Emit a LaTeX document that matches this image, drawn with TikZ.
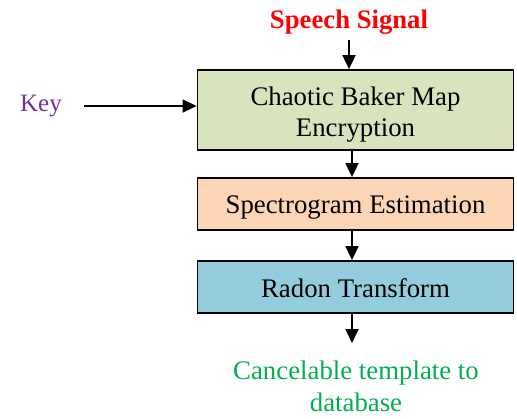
\documentclass[tikz,border=0pt]{standalone}
\usepackage{fontspec}
\setmainfont{Liberation Serif}
\usetikzlibrary{arrows.meta}
\definecolor{boxgreen}{HTML}{D7E4BD}
\definecolor{boxorange}{HTML}{FCD5B5}
\definecolor{boxblue}{HTML}{93CDDD}
\definecolor{keypurple}{HTML}{7030A0}
\definecolor{outgreen}{HTML}{00B050}
% lower the text inside a box without changing the box size
\newcommand{\lowertext}[2]{\raisebox{-#1}[\height][\depth]{#2}}
\tikzset{
  stage/.style={draw=black, line width=1.8pt, minimum width=316pt, inner sep=0pt, align=center,
    font=\fontsize{26.8}{31}\selectfont},
  flow/.style={line width=1.8pt, -{Triangle[length=14pt,width=13pt]}},
  label/.style={inner sep=0pt, align=center, font=\fontsize{26.8}{32}\selectfont}
}
\begin{document}
\begin{tikzpicture}[x=1pt,y=-1pt]
  \useasboundingbox (0,0) rectangle (517,418);
  % processing chain
  \node[stage, fill=boxgreen, minimum height=80pt] (enc) at (355.5,110)
    {\lowertext{5pt}{\begin{tabular}{@{}c@{}}Chaotic Baker Map\\Encryption\end{tabular}}};
  \node[stage, fill=boxorange, minimum height=52pt] (spec) at (355.5,204)
    {\lowertext{4pt}{Spectrogram Estimation}};
  \node[stage, fill=boxblue, minimum height=52pt] (radon) at (355.5,287)
    {\lowertext{1pt}{Radon Transform}};
  % inputs and output
  \node[label, text=red, font=\fontsize{26.7}{30}\selectfont\bfseries] (sig) at (349,22) {Speech Signal};
  \node[label, text=keypurple, font=\fontsize{25}{30}\selectfont] (key) at (41,106) {Key};
  \node[label, text=outgreen] (out) at (356,386) {Cancelable template to\\database};
  \coordinate (keyend) at (84,106);
  \coordinate (sigend) at (349,40);
  \coordinate (outend) at (352,343);
  % connectors
  \draw[flow] (sigend) -- (sigend |- enc.north);
  \draw[flow] (keyend) -- (keyend -| enc.west);
  \draw[flow] (352,0 |- enc.south) -- (352,0 |- spec.north);
  \draw[flow] (352,0 |- spec.south) -- (352,0 |- radon.north);
  \draw[flow] (outend |- radon.south) -- (outend);
\end{tikzpicture}
\end{document}
